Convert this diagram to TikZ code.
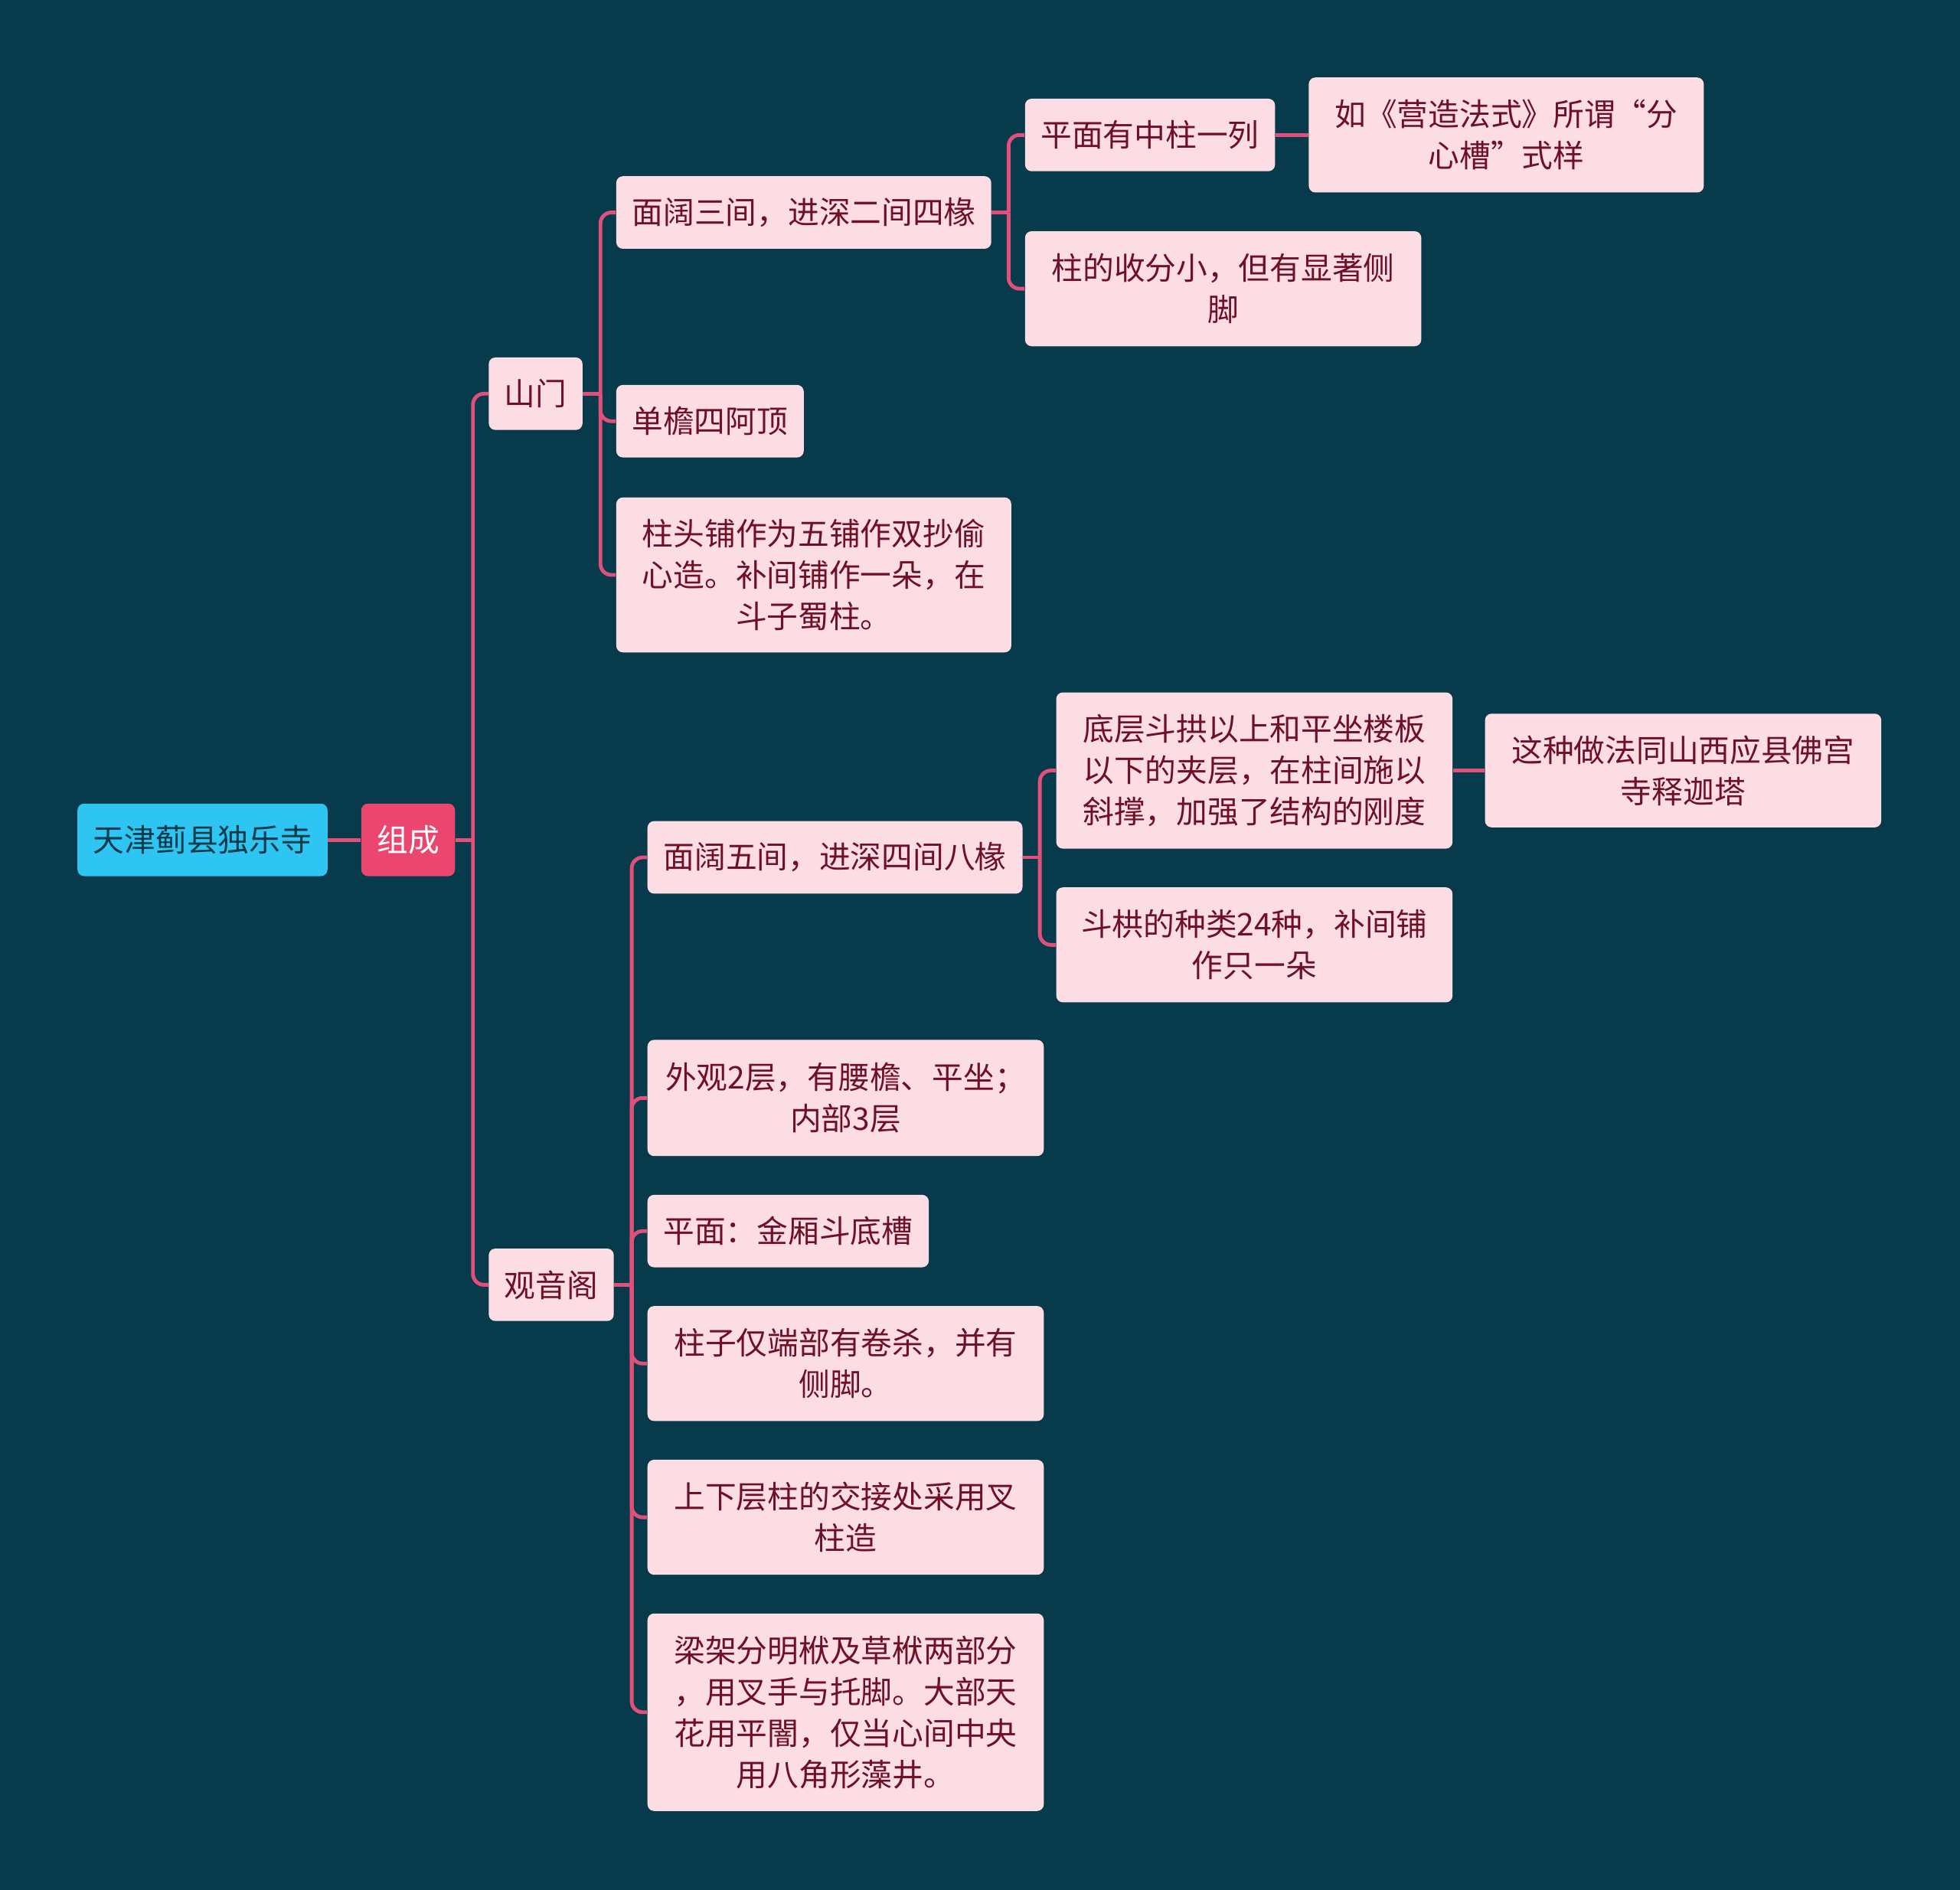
\documentclass[tikz,border=0pt]{standalone}
\usepackage{fontspec}
\setmainfont{Noto Sans CJK SC}
\usepackage{xcolor}
\usepackage{tikz}
\usetikzlibrary{calc}

\definecolor{bgteal}{HTML}{073A4B}
\definecolor{rootblue}{HTML}{2EC5F2}
\definecolor{hubred}{HTML}{EA4670}
\definecolor{leafpink}{HTML}{FCDDE3}
\definecolor{leaftext}{HTML}{6E1028}
\definecolor{linkred}{HTML}{E0507A}

\tikzset{
  boxsize/.style 2 args={minimum width=#1*0.02cm, minimum height=#2*0.02cm},
  box/.style={rounded corners=3pt, inner sep=0pt, align=center, font=\fontsize{14.2}{18.8}\selectfont},
  rootbox/.style={box, fill=rootblue, text=bgteal},
  hubbox/.style={box, fill=hubred, text=white},
  leafbox/.style={box, fill=leafpink, text=leaftext},
  link/.style={draw=linkred, line width=1.7pt, rounded corners=5pt},
}

\begin{document}
\begin{tikzpicture}[x=0.02cm, y=-0.02cm]
\fill[bgteal] (0,0) rectangle (1568,1512);
\useasboundingbox (0,0) rectangle (1568,1512);
% Root and hub
\node[rootbox, boxsize={200}{58}] (root) at (162,672) {天津蓟县独乐寺};
\node[hubbox, boxsize={75}{58}] (zucheng) at (326.5,672) {组成};
% Main branches
\node[leafbox, boxsize={75}{58}] (shanmen) at (428.5,315) {山门};
\node[leafbox, boxsize={100}{58}] (guanyinge) at (441,1028) {观音阁};
% Shanmen details
\node[leafbox, boxsize={300}{58}] (smA) at (643,170) {面阔三间，进深二间四椽};
\node[leafbox, boxsize={150}{58}] (smB) at (568,337) {单檐四阿顶};
\node[leafbox, boxsize={316}{124}] (smC) at (651,460) {柱头铺作为五铺作双抄偷\\心造。补间铺作一朵，在\\斗子蜀柱。};
\node[leafbox, boxsize={200}{58}] (smA1) at (920,108) {平面有中柱一列};
\node[leafbox, boxsize={316}{92}] (smA1x) at (1205,108) {如《营造法式》所谓“分\\心槽”式样};
\node[leafbox, boxsize={317}{92}] (smA2) at (978.5,231) {柱的收分小，但有显著侧\\脚};
% Guanyinge details
\node[leafbox, boxsize={300}{58}] (gyA) at (668,686) {面阔五间，进深四间八椽};
\node[leafbox, boxsize={317}{125}] (gyA1) at (1003.5,616.5) {底层斗拱以上和平坐楼板\\以下的夹层，在柱间施以\\斜撑，加强了结构的刚度};
\node[leafbox, boxsize={317}{91}] (gyA1x) at (1346.5,616.5) {这种做法同山西应县佛宫\\寺释迦塔};
\node[leafbox, boxsize={317}{92}] (gyA2) at (1003.5,756) {斗栱的种类24种，补间铺\\作只一朵};
\node[leafbox, boxsize={317}{93}] (gyB) at (676.5,878.5) {外观2层，有腰檐、平坐；\\内部3层};
\node[leafbox, boxsize={225}{58}] (gyC) at (630.5,985) {平面：金厢斗底槽};
\node[leafbox, boxsize={317}{92}] (gyD) at (676.5,1091) {柱子仅端部有卷杀，并有\\侧脚。};
\node[leafbox, boxsize={317}{92}] (gyE) at (676.5,1214) {上下层柱的交接处采用叉\\柱造};
\node[leafbox, boxsize={317}{158}] (gyF) at (676.5,1370) {梁架分明栿及草栿两部分\\，用叉手与托脚。大部天\\花用平闇，仅当心间中央\\用八角形藻井。};
% Connectors
\draw[link] (root.east) -- (zucheng.west);
\coordinate (jZ) at ($(zucheng.east)+(14,0)$);
\draw[link] (zucheng.east) -- (jZ);
\draw[link] (jZ) |- (shanmen.west);
\draw[link] (jZ) |- (guanyinge.west);
\coordinate (jS) at ($(shanmen.east)+(14,0)$);
\draw[link] (shanmen.east) -- (jS);
\draw[link] (jS) |- (smA.west);
\draw[link] (jS) |- (smB.west);
\draw[link] (jS) |- (smC.west);
\coordinate (jSA) at ($(smA.east)+(13.5,0)$);
\draw[link] (smA.east) -- (jSA);
\draw[link] (jSA) |- (smA1.west);
\draw[link] (jSA) |- (smA2.west);
\draw[link] (smA1.east) -- (smA1x.west);
\coordinate (jG) at ($(guanyinge.east)+(14,0)$);
\draw[link] (guanyinge.east) -- (jG);
\draw[link] (jG) |- (gyA.west);
\draw[link] (jG) |- (gyB.west);
\draw[link] (jG) |- (gyC.west);
\draw[link] (jG) |- (gyD.west);
\draw[link] (jG) |- (gyE.west);
\draw[link] (jG) |- (gyF.west);
\coordinate (jGA) at ($(gyA.east)+(13.5,0)$);
\draw[link] (gyA.east) -- (jGA);
\draw[link] (jGA) |- (gyA1.west);
\draw[link] (jGA) |- (gyA2.west);
\draw[link] (gyA1.east) -- (gyA1x.west);
\end{tikzpicture}
\end{document}
